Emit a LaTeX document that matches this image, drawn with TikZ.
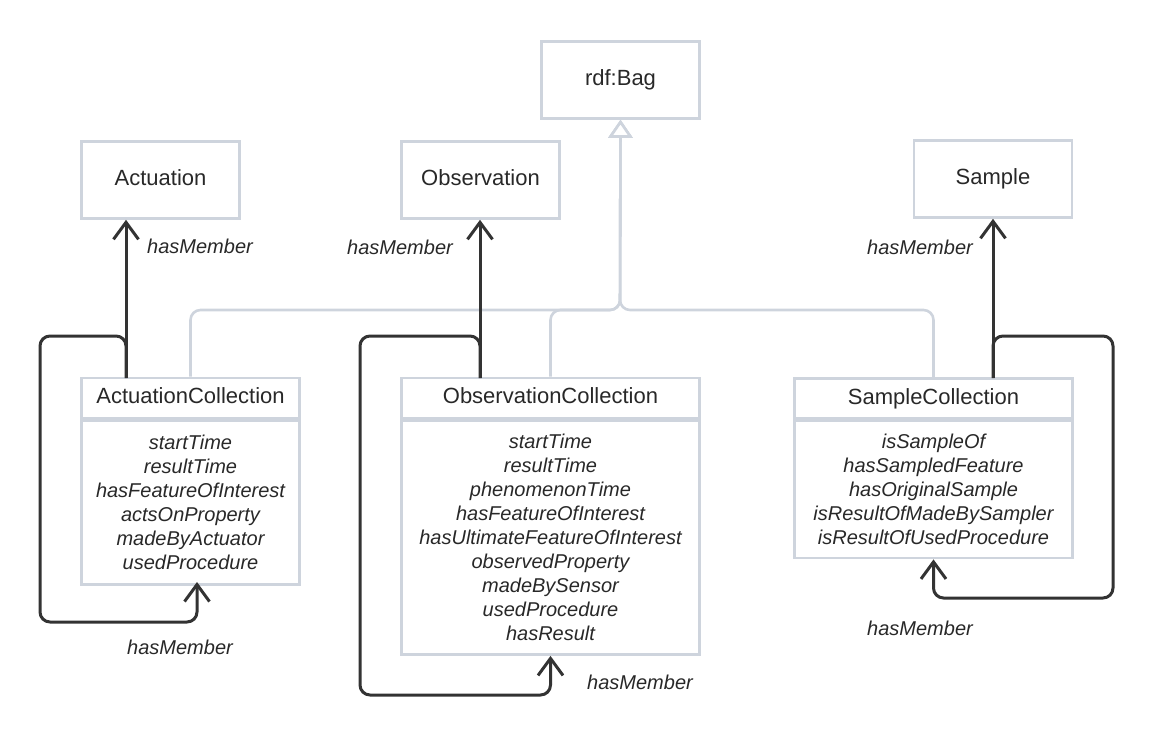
\documentclass[tikz,border=0pt]{standalone}
\usepackage{fontspec}
\setmainfont{Liberation Sans}
\usetikzlibrary{positioning,arrows.meta}
\definecolor{boxgray}{RGB}{206,212,221}
\definecolor{linedark}{RGB}{51,51,51}
\definecolor{textdark}{RGB}{40,40,40}
\begin{document}
\begin{tikzpicture}[x=1pt,y=-1pt,
    cls/.style={draw=boxgray,line width=2.6pt,minimum width=158pt,minimum height=77pt,
      text height=16pt,text depth=5pt,text=textdark,font=\fontsize{22}{26}\selectfont},
    hdr/.style={draw=boxgray,line width=2.6pt,minimum height=40pt,text=textdark,
      text height=16pt,text depth=5pt,font=\fontsize{22}{26}\selectfont},
    attrs/.style={draw=boxgray,line width=2.6pt,align=center,text=textdark,
      font=\fontsize{20}{24}\selectfont\itshape},
    member/.style={draw=linedark,line width=3pt,rounded corners=10pt,
      -{Straight Barb[length=17pt,width=25pt]}},
    isa/.style={draw=boxgray,line width=2.6pt,rounded corners=10pt,
      -{Triangle[open,length=18pt,width=24pt,fill=white]}},
    lbl/.style={text=textdark,font=\fontsize{20}{24}\selectfont\itshape}]
  \useasboundingbox (0,0) rectangle (1154,754);
  % classes
  \node[cls] (bag) at (620.5,80) {rdf:Bag};
  \node[cls] (act) at (160.5,180) {Actuation};
  \node[cls] (obs) at (480.5,180) {Observation};
  \node[cls] (sam) at (993,179) {Sample};
  % collections
  \node[hdr,minimum width=218pt] (acol) at (190.5,398) {ActuationCollection};
  \node[attrs,minimum width=218pt,minimum height=164pt,below=0pt of acol] (acolb)
    {startTime\\resultTime\\hasFeatureOfInterest\\actsOnProperty\\madeByActuator\\usedProcedure};
  \node[hdr,minimum width=298pt] (ocol) at (550.5,398) {ObservationCollection};
  \node[attrs,minimum width=298pt,minimum height=234pt,below=0pt of ocol] (ocolb)
    {startTime\\resultTime\\phenomenonTime\\hasFeatureOfInterest\\hasUltimateFeatureOfInterest\\
     observedProperty\\madeBySensor\\usedProcedure\\hasResult};
  \node[hdr,minimum width=278pt] (scol) at (933.5,398.5) {SampleCollection};
  \node[attrs,minimum width=278pt,minimum height=137pt,below=0pt of scol] (scolb)
    {isSampleOf\\hasSampledFeature\\hasOriginalSample\\isResultOfMadeBySampler\\isResultOfUsedProcedure};
  % inheritance
  \coordinate (join) at (620,310);
  \draw[isa] (acol.north) |- (join) -- (bag.south);
  \draw[isa] (ocol.north) |- (join) -- (bag.south);
  \draw[isa] (scol.north) |- (join) -- (bag.south);
  % hasMember
  \coordinate (aout) at (126,378);
  \coordinate (aend) at (197,582);
  \coordinate (oout) at (480,378);
  \coordinate (sout) at (993,378);
  \draw[member] (aout) -- (aout |- act.south);
  \draw[member] (aout) -- ++(0,-42) -| (40,622) -| (aend);
  \draw[member] (oout) -- (oout |- obs.south);
  \draw[member] (oout) -- ++(0,-42) -| (360,695) -| (ocolb.south);
  \draw[member] (sout) -- (sout |- sam.south);
  \draw[member] (sout) -- ++(0,-42) -| (1113,598) -| (scolb.south);
  \node[lbl] (l1) at (200,246) {hasMember};
  \node[lbl] (l2) at (180,647) {hasMember};
  \node[lbl] (l3) at (400,247) {hasMember};
  \node[lbl] (l4) at (640,682) {hasMember};
  \node[lbl] (l5) at (920,247) {hasMember};
  \node[lbl] (l6) at (920,628) {hasMember};
\end{tikzpicture}
\end{document}
